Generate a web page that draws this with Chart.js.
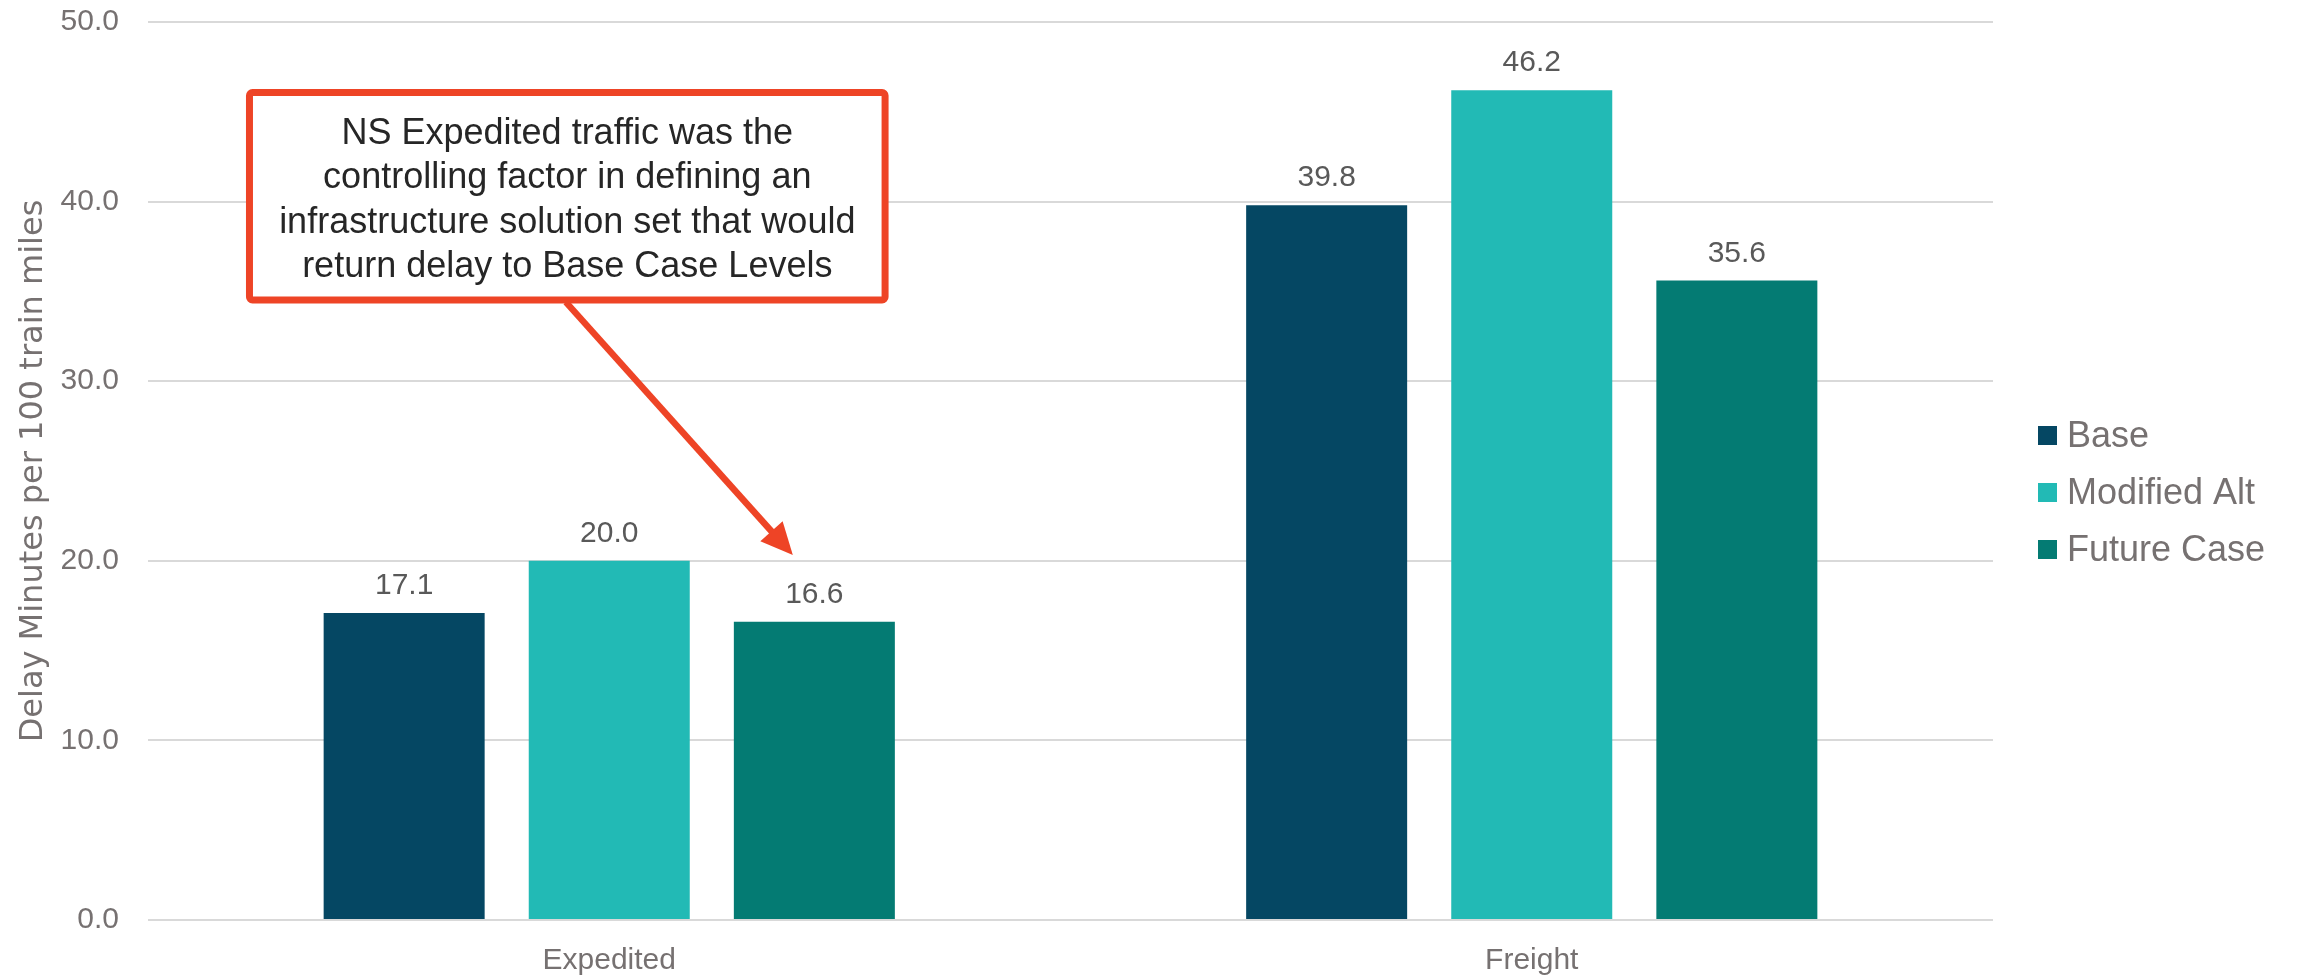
<!DOCTYPE html>
<html>
<head>
<meta charset="utf-8">
<script src="https://cdn.jsdelivr.net/npm/chart.js@4/dist/chart.umd.min.js"></script>
<style>
  html, body { margin: 0; padding: 0; background: #ffffff; }
  #wrap { position: relative; width: 2305px; height: 976px; }
  canvas { display: block; }
</style>
</head>
<body>
<div id="wrap"><canvas id="c" width="2305" height="976"></canvas></div>
<script>
// ---- data ----
const categories = ["Expedited", "Freight"];
const seriesNames = ["Base", "Modified Alt", "Future Case"];
const baseValues = [17.1, 39.8];
const modifiedAltValues = [20.0, 46.2];
const futureCaseValues = [16.6, 35.6];
const yTicks = [0, 10, 20, 30, 40, 50];
const yTitle = "Delay Minutes per 100 train miles";
const calloutLines = [
  "NS Expedited traffic was the",
  "controlling factor in defining an",
  "infrastructure solution set that would",
  "return delay to Base Case Levels"
];

// ---- styles ----
const FONT = '"Liberation Sans", Arial, sans-serif';
const GRAY = '#767171';
const colors = ['#054763', '#22bab5', '#047b73'];
const RED = '#ee4426';

// callout geometry in data space (category index units, y values)
const calloutBox = { x0: -0.39, x1: 0.299, yTop: 46.07, yBottom: 34.52 };
const calloutArrow = { x0: -0.047, y0: 34.4, x1: 0.199, y1: 20.32 };

const valueLabels = {
  id: 'valueLabels',
  afterDatasetsDraw(chart) {
    const ctx = chart.ctx;
    ctx.save();
    ctx.font = '30px ' + FONT;
    ctx.fillStyle = '#595959';
    ctx.textAlign = 'center';
    ctx.textBaseline = 'alphabetic';
    chart.data.datasets.forEach((ds, di) => {
      const meta = chart.getDatasetMeta(di);
      meta.data.forEach((bar, i) => {
        ctx.fillText(ds.data[i].toFixed(1), bar.x, bar.y - 19);
      });
    });
    ctx.restore();
  }
};

const customLegend = {
  id: 'customLegend',
  afterDraw(chart) {
    const ctx = chart.ctx;
    const area = chart.chartArea;
    const x = area.right + 45;
    const step = 57;
    const n = chart.data.datasets.length;
    const cy = 494;
    ctx.save();
    ctx.font = '36px ' + FONT;
    ctx.textBaseline = 'middle';
    ctx.textAlign = 'left';
    chart.data.datasets.forEach((ds, i) => {
      const yc = cy + (i - (n - 1) / 2) * step;
      ctx.fillStyle = ds.backgroundColor;
      ctx.fillRect(x, yc - 11, 19, 19);
      ctx.fillStyle = GRAY;
      ctx.fillText(ds.label, x + 29, yc);
    });
    ctx.restore();
  }
};

const callout = {
  id: 'callout',
  afterDraw(chart) {
    const ctx = chart.ctx;
    const xs = chart.scales.x, ys = chart.scales.y;
    const L = xs.getPixelForValue(calloutBox.x0);
    const R = xs.getPixelForValue(calloutBox.x1);
    const T = ys.getPixelForValue(calloutBox.yTop);
    const B = ys.getPixelForValue(calloutBox.yBottom);
    ctx.save();
    // arrow
    const ax0 = xs.getPixelForValue(calloutArrow.x0), ay0 = ys.getPixelForValue(calloutArrow.y0);
    const ax1 = xs.getPixelForValue(calloutArrow.x1), ay1 = ys.getPixelForValue(calloutArrow.y1);
    const ang = Math.atan2(ay1 - ay0, ax1 - ax0);
    const headLen = 32, headW = 15;
    const bx = ax1 - headLen * Math.cos(ang), by = ay1 - headLen * Math.sin(ang);
    ctx.strokeStyle = RED;
    ctx.lineWidth = 6.5;
    ctx.beginPath();
    ctx.moveTo(ax0, ay0);
    ctx.lineTo(bx + 4 * Math.cos(ang), by + 4 * Math.sin(ang));
    ctx.stroke();
    ctx.fillStyle = RED;
    ctx.beginPath();
    ctx.moveTo(ax1, ay1);
    ctx.lineTo(bx + headW * Math.sin(ang), by - headW * Math.cos(ang));
    ctx.lineTo(bx - headW * Math.sin(ang), by + headW * Math.cos(ang));
    ctx.closePath();
    ctx.fill();
    // box
    ctx.fillStyle = '#ffffff';
    ctx.fillRect(L, T, R - L, B - T);
    ctx.lineWidth = 7;
    ctx.lineJoin = 'round';
    ctx.strokeStyle = RED;
    ctx.beginPath();
    ctx.roundRect(L, T, R - L, B - T, 3);
    ctx.stroke();
    // text
    ctx.fillStyle = '#262626';
    ctx.font = '36px ' + FONT;
    ctx.textAlign = 'center';
    ctx.textBaseline = 'alphabetic';
    const cx = (L + R) / 2;
    const firstBase = T + 51.5;
    calloutLines.forEach((line, i) => {
      ctx.fillText(line, cx, firstBase + i * 44.3);
    });
    ctx.restore();
  }
};

const chart = new Chart(document.getElementById('c'), {
  type: 'bar',
  data: {
    labels: categories,
    datasets: [
      { label: seriesNames[0], data: baseValues, backgroundColor: colors[0] },
      { label: seriesNames[1], data: modifiedAltValues, backgroundColor: colors[1] },
      { label: seriesNames[2], data: futureCaseValues, backgroundColor: colors[2] }
    ]
  },
  options: {
    responsive: false,
    animation: false,
    devicePixelRatio: 1,
    layout: { padding: { top: 22, right: 312, bottom: 0, left: 0 } },
    datasets: {
      bar: { barPercentage: 0.785, categoryPercentage: 0.667, borderWidth: 0 }
    },
    plugins: {
      legend: { display: false },
      tooltip: { enabled: false },
      title: { display: false }
    },
    scales: {
      x: {
        grid: { display: false, drawTicks: false },
        border: { display: false },
        ticks: { color: GRAY, font: { family: FONT, size: 30 }, padding: 23 },
        afterFit(scale) { scale.height = 56; }
      },
      y: {
        min: 0, max: 50,
        afterBuildTicks(scale) { scale.ticks = yTicks.map(v => ({ value: v })); },
        grid: { color: '#d9d9d9', lineWidth: 2, drawTicks: false },
        border: { display: false },
        ticks: {
          color: GRAY,
          font: { family: FONT, size: 30 },
          padding: 29,
          callback: v => Number(v).toFixed(1)
        },
        title: {
          display: true,
          text: yTitle,
          color: GRAY,
          font: { family: '"DejaVu Sans", sans-serif', size: 32 },
          padding: { top: 14, bottom: 0 }
        },
        afterFit(scale) {
          scale.width = 148;
          scale.paddingTop = 0;
          scale.paddingBottom = 0;
        }
      }
    }
  },
  plugins: [valueLabels, callout, customLegend]
});
</script>
</body>
</html>
